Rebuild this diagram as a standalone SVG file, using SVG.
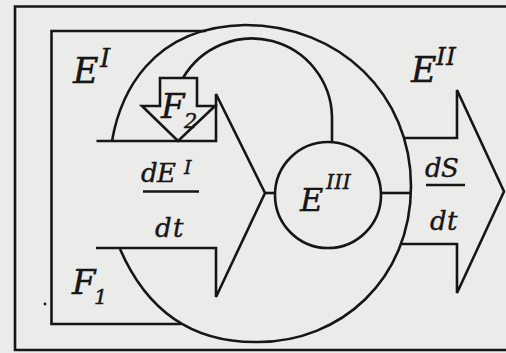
<svg xmlns="http://www.w3.org/2000/svg" width="506" height="353" viewBox="0 0 506 353">
<defs>
<style>
.ln{fill:none;stroke:#161616;stroke-width:2.6;stroke-linejoin:miter;stroke-linecap:butt}
.tx{font-family:"DejaVu Serif","Liberation Serif",serif;font-style:italic;fill:#161616;stroke:#161616;stroke-width:0.4}
.fr{font-size:26px}
</style>
</defs>
<rect x="0" y="0" width="506" height="353" fill="#ebebe9"/>
<g id="frame">
<path class="ln" d="M506,6.5 H15 V350 H506" stroke-width="3"/>
<circle cx="45" cy="304" r="1.4" fill="#161616"/>
</g>
<g id="node-EI">
<path class="ln" d="M206,31 H51.5 V324 H181"/>
<text class="tx" x="73" y="83" font-size="35">E</text>
<text class="tx" x="100" y="67" font-size="26">I</text>
<text class="tx" x="72" y="294" font-size="34">F</text>
<text class="tx" x="94" y="304" font-size="21">1</text>
</g>
<g id="node-EII">
<path class="ln" d="M112,141 C120,95 150,27 245,25 C340,25 411,95 411,186 C411,280 340,342 258,342 C200,343 150,318 120,249"/>
<text class="tx" x="411" y="82" font-size="35">E</text>
<text class="tx" x="436" y="65" font-size="25">II</text>
</g>
<g id="node-EIII">
<circle class="ln" cx="328" cy="195" r="53"/>
<text class="tx" x="300" y="210.5" font-size="32">E</text>
<text class="tx" x="326" y="189" font-size="21">III</text>
</g>
<g id="connectors">
<path class="ln" d="M96.5,141 H216 V94 L265,193 L216,297 V248 H96"/>
<path class="ln" d="M404.5,138 H457 V90 L504,191.5 L457,293 V244 H401"/>
<path class="ln" d="M265,193 H275"/>
<path class="ln" d="M381,193 H411"/>
<path class="ln" d="M183,78 A80,80 0 0 1 332,117 V142"/>
<path class="ln" d="M160,78 H197 V106 H215 L178,141 L142,106 H160 Z"/>
<text class="tx" x="161" y="118" font-size="34">F</text>
<text class="tx" x="184" y="128" font-size="21">2</text>
<text class="tx fr" x="141" y="182">d</text>
<text class="tx fr" x="157" y="182">E</text>
<text class="tx" x="184" y="174" font-size="19">I</text>
<path class="ln" d="M143,191.5 H199" stroke-width="2.2"/>
<text class="tx fr" x="155" y="236.5">d</text>
<text class="tx fr" x="173" y="236.5">t</text>
<text class="tx fr" x="425" y="177">d</text>
<text class="tx fr" x="441" y="177">S</text>
<path class="ln" d="M426,185 H465" stroke-width="2.2"/>
<text class="tx fr" x="430" y="230">d</text>
<text class="tx fr" x="447" y="230">t</text>
</g>
</svg>
